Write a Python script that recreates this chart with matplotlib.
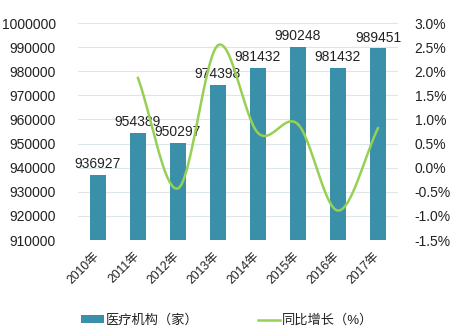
import numpy as np
import matplotlib
matplotlib.use('Agg')
from matplotlib import pyplot as plt
from matplotlib.ticker import FuncFormatter

plt.rcParams['font.family'] = ['Liberation Sans', 'Noto Sans CJK SC']

years = ['2010年', '2011年', '2012年', '2013年', '2014年', '2015年', '2016年', '2017年']
institutions = [936927, 954389, 950297, 974398, 981432, 990248, 981432, 989451]
growth_years = [1, 2, 3, 4, 5, 6, 7]
growth = [1.86, -0.43, 2.54, 0.72, 0.90, -0.89, 0.82]

BAR = '#3a90a8'
LINE = '#96d055'
TEXT = '#222222'


def smooth(xs, ys, n=30):
    # Catmull-Rom curve through the points, like a spreadsheet "smoothed line"
    xs = np.asarray(xs, float)
    ys = np.asarray(ys, float)
    px = np.concatenate([[2 * xs[0] - xs[1]], xs, [2 * xs[-1] - xs[-2]]])
    py = np.concatenate([[2 * ys[0] - ys[1]], ys, [2 * ys[-1] - ys[-2]]])
    out_x, out_y = [], []
    t = np.linspace(0, 1, n)
    for i in range(1, len(px) - 2):
        for p, out in ((px, out_x), (py, out_y)):
            p0, p1, p2, p3 = p[i - 1], p[i], p[i + 1], p[i + 2]
            out.extend(0.5 * (2 * p1 + (-p0 + p2) * t
                              + (2 * p0 - 5 * p1 + 4 * p2 - p3) * t ** 2
                              + (-p0 + 3 * p1 - 3 * p2 + p3) * t ** 3))
    return np.array(out_x), np.array(out_y)


def main():
    fig = plt.figure(figsize=(4.55, 3.34), dpi=100)
    ax = fig.add_axes([0.1714, 0.2814, 0.7033, 0.6497])
    x = np.arange(len(years))

    base = 910000
    ax.bar(x, [v - base for v in institutions], bottom=base, width=0.4,
           color=BAR, zorder=2, label='医疗机构（家）')
    for xi, v in zip(x, institutions):
        ax.text(xi, v + 1500, str(v), ha='center', va='bottom',
                fontsize=10, color=TEXT, zorder=4)

    ax.set_ylim(910000, 1000000)
    ax.set_yticks(np.arange(910000, 1000001, 10000))
    ax.yaxis.set_major_formatter(FuncFormatter(lambda v, p: f'{v:.0f}'))
    ax.set_xlim(-0.5, len(years) - 0.5)
    ax.set_xticks(x - 0.12)
    ax.set_xticklabels(years, rotation=45, ha='right', rotation_mode='anchor',
                       fontsize=8.8, color=TEXT)
    ax.tick_params(axis='y', length=0, pad=16, labelsize=10, labelcolor=TEXT)
    ax.tick_params(axis='x', length=0, pad=7)
    ax.grid(axis='y', color='#dce6ea', linewidth=0.8, zorder=0)
    for s in ax.spines.values():
        s.set_visible(False)

    ax2 = ax.twinx()
    sx, sy = smooth(growth_years, growth)
    ax2.plot(sx, sy, color=LINE, linewidth=1.8, zorder=3, label='同比增长（%）')
    ax2.set_ylim(-1.5, 3.0)
    ax2.set_yticks(np.arange(-1.5, 3.01, 0.5))
    ax2.yaxis.set_major_formatter(FuncFormatter(lambda v, p: f'{v:.1f}%'))
    ax2.tick_params(axis='y', length=0, pad=12, labelsize=10, labelcolor=TEXT)
    for s in ax2.spines.values():
        s.set_visible(False)

    h1, l1 = ax.get_legend_handles_labels()
    h2, l2 = ax2.get_legend_handles_labels()
    fig.legend(h1 + h2, l1 + l2, loc='center', bbox_to_anchor=(0.5, 0.04),
               ncol=2, frameon=False, fontsize=9.5, handlelength=1.7,
               handleheight=0.55, handletextpad=0.15, columnspacing=4.5,
               labelcolor=TEXT)

    fig.savefig('out.png', dpi=100)


if __name__ == '__main__':
    main()
